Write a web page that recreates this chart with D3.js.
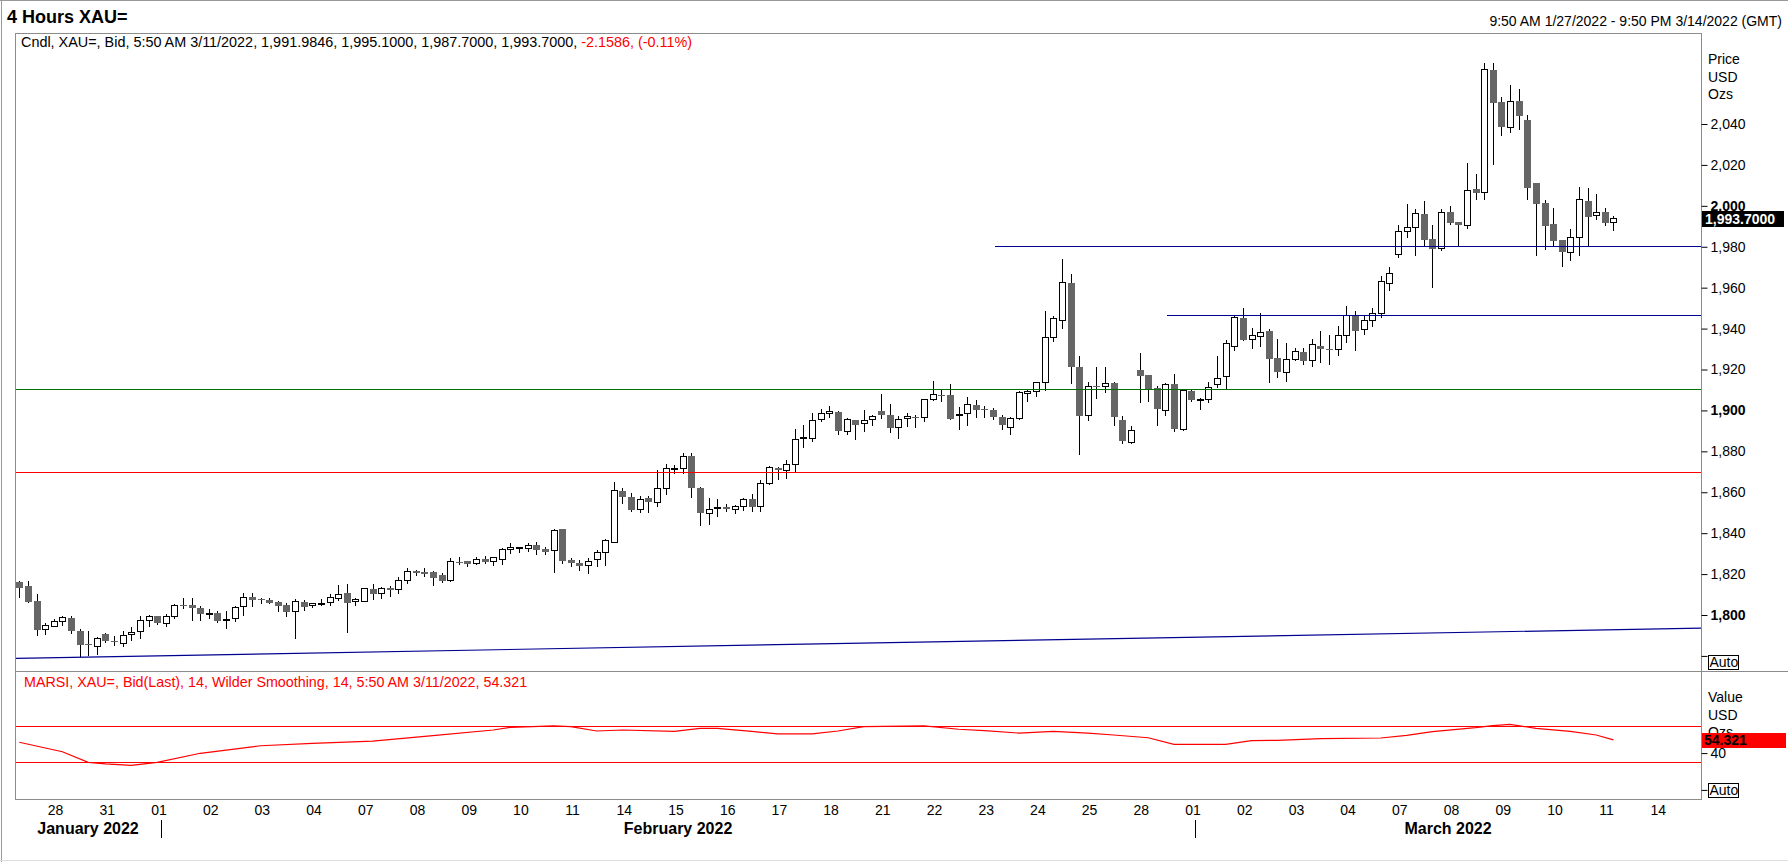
<!DOCTYPE html>
<html>
<head>
<meta charset="utf-8">
<script src="https://cdn.jsdelivr.net/npm/d3@7"></script>
<style>
  body { margin: 0; background: #fff; }
  svg { display: block; }
</style>
</head>
<body>
<svg id="chart" width="1788" height="862"></svg>
<script>
// ---- data: 4 hour XAU= bars, 9:50 AM 1/27/2022 .. 5:50 AM 3/11/2022 ----
const open = [
  1816.2,1814.1,1806.7,1792.8,1794.4,1796.8,1798.6,1792.1,1785.6,1784.6,
  1790.6,1787.3,1786.1,1790.5,1791.9,1797.1,1799.3,1796.0,1799.3,1804.8,
  1804.8,1803.6,1800.6,1801.2,1797.8,1798.3,1804.1,1808.7,1807.9,1807.4,
  1806.4,1804.8,1801.7,1806.5,1804.6,1805.5,1806.0,1808.3,1810.6,1806.4,
  1806.5,1812.9,1810.4,1813.0,1812.4,1817.1,1821.5,1821.0,1821.2,1819.4,
  1817.1,1826.1,1826.4,1825.1,1827.2,1826.1,1827.2,1831.9,1832.4,1832.6,
  1834.0,1832.1,1831.3,1841.9,1826.7,1825.6,1824.0,1827.1,1830.5,1835.4,
  1860.7,1857.8,1851.5,1857.0,1854.9,1861.7,1871.3,1871.5,1877.5,1861.9,
  1849.5,1852.2,1852.9,1851.8,1852.9,1856.8,1852.8,1864.5,1872.0,1870.8,
  1873.4,1886.2,1886.1,1895.4,1898.3,1899.3,1889.9,1895.4,1893.4,1895.4,
  1899.9,1898.0,1891.5,1896.1,1896.6,1896.4,1905.2,1907.6,1907.6,1897.7,
  1898.3,1902.7,1900.6,1900.3,1896.9,1891.8,1895.9,1908.1,1909.2,1913.5,
  1935.4,1944.0,1962.3,1921.3,1897.7,1912.0,1911.8,1913.5,1895.4,1884.2,
  1919.9,1917.5,1911.2,1900.1,1913.1,1890.7,1909.7,1905.0,1905.3,1912.5,
  1916.4,1931.0,1945.2,1934.9,1935.9,1939.0,1925.6,1918.3,1924.8,1928.4,
  1924.4,1931.5,1930.2,1930.0,1936.6,1946.6,1939.5,1944.0,1947.5,1962.2,
  1976.4,1987.5,1989.6,1996.1,1983.9,1979.3,1996.9,1991.9,1990.4,2008.1,
  2006.7,2066.4,2050.9,2038.4,2051.2,2041.9,2011.3,2001.6,1991.2,1983.4,
  1977.3,1984.7,2002.4,1995.1,1997.2,1991.98
];
const high = [
  1816.7,1816.7,1810.2,1796.2,1798.0,1799.6,1799.3,1793.1,1792.4,1789.3,
  1791.1,1789.8,1792.3,1793.9,1799.6,1799.9,1799.6,1800.4,1805.3,1808.5,
  1808.5,1804.5,1802.8,1802.0,1802.0,1804.5,1810.6,1810.9,1808.5,1808.5,
  1806.9,1805.8,1807.7,1807.4,1806.1,1807.7,1810.1,1814.5,1815.0,1808.5,
  1813.4,1815.0,1813.9,1814.2,1818.6,1823.1,1822.0,1823.1,1821.5,1820.7,
  1828.0,1828.5,1826.4,1828.5,1828.8,1828.0,1832.9,1835.3,1833.4,1835.0,
  1835.8,1833.4,1841.8,1842.0,1827.7,1826.7,1827.7,1831.6,1837.0,1865.1,
  1861.9,1859.8,1858.1,1858.1,1870.7,1873.9,1873.1,1879.0,1879.3,1862.5,
  1857.0,1856.5,1854.4,1853.6,1857.3,1859.3,1865.8,1872.8,1872.3,1876.0,
  1890.7,1893.1,1898.8,1900.9,1902.4,1899.6,1896.4,1895.4,1900.0,1898.0,
  1908.2,1902.9,1897.5,1898.6,1897.7,1905.8,1914.3,1910.2,1912.9,1901.7,
  1906.6,1905.3,1902.1,1901.3,1898.0,1896.9,1909.4,1910.5,1913.5,1948.8,
  1946.0,1974.1,1966.7,1926.8,1913.8,1921.3,1921.3,1914.1,1897.5,1892.6,
  1928.1,1917.5,1911.8,1913.5,1917.8,1909.6,1910.2,1906.1,1913.9,1926.5,
  1934.6,1946.3,1950.1,1940.3,1947.6,1939.8,1934.9,1933.0,1930.5,1930.5,
  1934.9,1938.6,1937.0,1941.1,1950.9,1948.5,1946.0,1950.0,1965.5,1970.1,
  1990.7,2001.0,1998.4,2002.4,1990.7,1998.4,2000.0,1992.2,2020.8,2015.6,
  2070.0,2069.9,2053.3,2059.0,2056.9,2044.4,2011.3,2002.9,1998.8,1983.4,
  1988.6,2009.1,2008.6,2005.8,1998.8,1995.1
];
const low = [
  1808.5,1806.1,1789.8,1790.3,1793.9,1794.7,1790.8,1779.6,1780.1,1780.6,
  1786.1,1784.9,1784.6,1787.4,1788.2,1793.9,1795.2,1794.2,1798.0,1802.8,
  1797.1,1797.1,1798.0,1796.3,1793.4,1796.8,1799.3,1804.1,1805.6,1805.3,
  1801.7,1799.1,1788.2,1802.0,1803.3,1804.4,1804.4,1806.9,1791.4,1804.4,
  1806.3,1807.4,1807.7,1809.0,1810.1,1815.3,1819.1,1818.6,1814.2,1815.8,
  1816.1,1824.4,1823.6,1824.3,1824.8,1823.9,1824.3,1830.0,1830.5,1830.8,
  1829.3,1829.3,1820.7,1824.8,1823.5,1821.5,1819.9,1823.5,1824.0,1835.4,
  1854.1,1850.3,1849.8,1849.8,1852.8,1858.9,1869.0,1869.0,1857.2,1843.5,
  1844.0,1847.9,1850.3,1849.2,1850.8,1850.3,1850.3,1863.5,1865.8,1866.3,
  1870.0,1881.7,1884.5,1894.4,1896.4,1887.9,1888.2,1885.3,1889.5,1892.3,
  1895.9,1888.9,1885.8,1891.8,1891.2,1894.3,1904.5,1904.0,1895.2,1890.4,
  1892.6,1896.1,1896.1,1895.1,1890.5,1888.2,1895.2,1904.0,1906.5,1909.4,
  1933.5,1939.8,1913.0,1878.2,1894.7,1905.6,1908.6,1892.3,1883.4,1883.4,
  1903.7,1904.0,1892.3,1897.2,1889.4,1889.9,1904.0,1900.1,1903.4,1911.0,
  1910.7,1928.9,1933.8,1930.0,1930.9,1913.5,1915.9,1913.8,1924.0,1922.4,
  1921.3,1923.2,1922.4,1926.5,1933.0,1928.9,1937.0,1941.0,1945.0,1958.5,
  1974.5,1984.5,1975.3,1980.6,1959.8,1977.7,1990.4,1980.5,1988.6,2002.9,
  2002.9,2020.2,2034.1,2035.8,2037.0,2002.9,1975.6,1978.5,1980.6,1969.9,
  1972.8,1975.6,1980.1,1993.1,1990.2,1987.7
];
const close = [
  1813.4,1806.4,1792.8,1794.9,1796.8,1798.6,1792.4,1785.4,1785.4,1788.7,
  1787.1,1787.1,1790.1,1791.4,1797.1,1799.3,1796.2,1799.3,1804.5,1804.6,
  1803.2,1800.7,1800.8,1797.1,1798.0,1803.6,1808.5,1807.1,1807.2,1805.9,
  1804.5,1801.5,1806.5,1803.9,1805.6,1805.8,1808.5,1809.9,1805.7,1807.7,
  1812.9,1810.1,1812.9,1812.2,1816.9,1821.2,1820.5,1819.9,1818.1,1816.6,
  1826.1,1825.2,1824.9,1827.0,1825.9,1828.0,1831.9,1832.9,1832.9,1834.0,
  1831.8,1830.8,1841.4,1826.4,1825.4,1824.0,1826.1,1830.5,1836.5,1860.7,
  1857.6,1851.3,1856.4,1855.2,1861.7,1871.5,1871.7,1877.3,1862.0,1849.8,
  1851.5,1852.6,1851.8,1852.8,1856.4,1852.8,1864.2,1872.0,1870.8,1873.4,
  1885.6,1886.6,1895.1,1898.3,1899.3,1889.9,1895.4,1892.8,1895.2,1896.9,
  1897.7,1891.2,1895.4,1897.0,1896.4,1905.2,1907.6,1907.4,1895.7,1898.1,
  1903.0,1900.1,1900.4,1896.7,1893.1,1895.9,1908.6,1909.2,1913.5,1935.4,
  1944.7,1962.3,1921.1,1897.2,1911.8,1911.8,1913.3,1896.7,1885.0,1890.4,
  1917.0,1910.5,1900.5,1912.5,1890.7,1909.6,1905.0,1905.4,1911.0,1915.8,
  1932.5,1945.2,1934.6,1936.4,1937.9,1925.2,1918.7,1924.8,1928.9,1924.0,
  1932.0,1930.0,1930.0,1936.6,1946.6,1939.0,1944.0,1947.5,1963.0,1967.1,
  1987.5,1989.6,1996.4,1983.1,1978.8,1996.9,1991.5,1990.4,2007.6,2006.5,
  2066.8,2050.4,2038.4,2051.2,2044.0,2008.9,2000.8,1990.2,1983.0,1977.3,
  1984.7,2003.2,1994.3,1996.9,1991.5,1993.7
];

// MARSI(14, Wilder): bar index -> value
const rsiBars   = [0, 5, 8, 10, 13, 16, 21, 28, 34, 41, 48, 55, 57, 62, 64, 67, 70, 76, 79, 81,
                   85, 88, 92, 95, 98, 105, 109, 112, 116, 120, 124, 127, 131, 134, 137, 140, 143, 146, 151, 158,
                   161, 164, 169, 171, 173, 176, 180, 183, 185];
const rsiValues = [51.8, 41.5, 30.0, 28.2, 26.7, 30.0, 39.8, 48.0, 50.6, 53.1, 59.0, 65.1, 68.0, 69.5, 68.7, 64.0, 65.1, 63.6, 66.9, 66.9,
                   63.6, 60.8, 60.8, 64.0, 68.7, 69.5, 65.9, 64.4, 61.8, 63.6, 61.8, 59.7, 56.7, 49.5, 49.5, 49.5, 53.5, 53.9, 55.7, 56.4,
                   59.3, 63.3, 67.6, 69.8, 71.3, 66.9, 63.6, 59.7, 54.3];
const rsiLevels = [70, 30];

// drawn levels on the price pane
const levelPrices    = [1980.2, 1946.8, 1910.6, 1870.1];
const levelStartBars = [113.2, 133.2, null, null];
const trendBars   = [-0.6, 195.3];
const trendPrices = [1778.8, 1793.6];

// trading days on the time axis (Jan 27 shows only its last 4 bars)
const tradingDays = ["2022-01-27","2022-01-28","2022-01-31","2022-02-01","2022-02-02","2022-02-03","2022-02-04",
  "2022-02-07","2022-02-08","2022-02-09","2022-02-10","2022-02-11","2022-02-14","2022-02-15","2022-02-16",
  "2022-02-17","2022-02-18","2022-02-21","2022-02-22","2022-02-23","2022-02-24","2022-02-25","2022-02-28",
  "2022-03-01","2022-03-02","2022-03-03","2022-03-04","2022-03-07","2022-03-08","2022-03-09","2022-03-10",
  "2022-03-11","2022-03-14"];
const barsPerDay = 6;
const firstDayOffset = 2;

const priceTicks = [1780, 1800, 1820, 1840, 1860, 1880, 1900, 1920, 1940, 1960, 1980, 2000, 2020, 2040];
const rsiTicks = [0, 40];
const lastPrice = 1993.7;
const lastRsi = 54.321;

// ---- layout ----
const FONT = "Arial, 'Liberation Sans', sans-serif";
const plotL = 15, plotR = 1701, plotT = 33, sepY = 671, rsiB = 799;
const BAR_W = 8.617;
const GRAY = "#666666", FRAME = "#8c8c8c";

const svg = d3.select("#chart").style("font-family", FONT);

const x = d3.scaleLinear().domain([0, 185]).range([19.3, 19.3 + 185 * BAR_W]);
const y = d3.scaleLinear().domain([1800, 2040]).range([615, 124]);
const yr = d3.scaleLinear().domain([30, 70]).range([762.3, 725.5]);

svg.append("rect").attr("width", 1788).attr("height", 862).attr("fill", "#fff");

// outer frame
svg.append("line").attr("x1", 1.5).attr("x2", 1.5).attr("y1", 0).attr("y2", 862).attr("stroke", "#999");
svg.append("line").attr("x1", 0).attr("x2", 1788).attr("y1", 0.5).attr("y2", 0.5).attr("stroke", "#999");
svg.append("line").attr("x1", 0).attr("x2", 1788).attr("y1", 860.5).attr("y2", 860.5).attr("stroke", "#ddd");

// title
svg.append("text").attr("x", 7).attr("y", 23)
  .attr("font-size", 18).attr("font-weight", "bold").text("4 Hours XAU=");
svg.append("text").attr("x", 1782).attr("y", 26).attr("text-anchor", "end")
  .attr("font-size", 14).text("9:50 AM 1/27/2022 - 9:50 PM 3/14/2022 (GMT)");

// pane frames
const frame = svg.append("g").attr("stroke", FRAME).attr("fill", "none").attr("shape-rendering", "crispEdges");
frame.append("path").attr("d", `M${plotL + 0.5},${rsiB + 0.5}V${plotT + 0.5}H${plotR + 0.5}V${rsiB + 0.5}H${plotL + 0.5}`);
frame.append("line").attr("x1", plotL).attr("x2", 1788).attr("y1", sepY + 0.5).attr("y2", sepY + 0.5);

// clip for price pane
svg.append("clipPath").attr("id", "priceClip").append("rect")
  .attr("x", plotL + 1).attr("y", plotT + 1).attr("width", plotR - plotL - 1).attr("height", sepY - plotT - 1);
svg.append("clipPath").attr("id", "rsiClip").append("rect")
  .attr("x", plotL + 1).attr("y", sepY + 1).attr("width", plotR - plotL - 1).attr("height", rsiB - sepY - 1);

// ---- candles ----
const bars = open.map((o, i) => ({ i, o, h: high[i], l: low[i], c: close[i] }));
const cg = svg.append("g").attr("clip-path", "url(#priceClip)").attr("shape-rendering", "crispEdges");

cg.selectAll("line.wick")
  .data(bars)
  .join("line")
  .attr("class", "wick")
  .attr("x1", d => Math.round(x(d.i)) + 0.5)
  .attr("x2", d => Math.round(x(d.i)) + 0.5)
  .attr("y1", d => y(d.h))
  .attr("y2", d => y(d.l))
  .attr("stroke", "#000");

cg.selectAll("rect.body")
  .data(bars)
  .join("rect")
  .attr("class", "body")
  .attr("x", d => d.c >= d.o ? Math.round(x(d.i)) - 2.5 : Math.round(x(d.i)) - 3)
  .attr("width", d => d.c >= d.o ? 6 : 7)
  .attr("y", d => y(Math.max(d.o, d.c)))
  .attr("height", d => Math.max(1, Math.abs(y(d.o) - y(d.c))))
  .attr("fill", d => d.c >= d.o ? "#fff" : GRAY)
  .attr("stroke", d => d.c >= d.o ? "#000" : "none");

// levels and trend line
const levelColors = ["#000090", "#000090", "#007000", "#ff0000"];
cg.selectAll("line.level")
  .data(levelPrices)
  .join("line")
  .attr("class", "level")
  .attr("x1", (d, k) => levelStartBars[k] === null ? plotL : x(levelStartBars[k]))
  .attr("x2", plotR)
  .attr("y1", d => Math.round(y(d)) + 0.5)
  .attr("y2", d => Math.round(y(d)) + 0.5)
  .attr("stroke", (d, k) => levelColors[k]);

svg.append("line").attr("clip-path", "url(#priceClip)")
  .attr("x1", x(trendBars[0])).attr("y1", y(trendPrices[0]))
  .attr("x2", x(trendBars[1])).attr("y2", y(trendPrices[1]))
  .attr("stroke", "#000090").attr("stroke-width", 1.2);

// price pane header
const hdr = svg.append("text").attr("x", 21).attr("y", 47).attr("font-size", 14.4);
hdr.append("tspan").text("Cndl, XAU=, Bid, 5:50 AM 3/11/2022, 1,991.9846, 1,995.1000, 1,987.7000, 1,993.7000, ");
hdr.append("tspan").attr("fill", "#ff0000").text("-2.1586, (-0.11%)");

// price axis
const yAxis = d3.axisRight(y)
  .tickValues(priceTicks)
  .tickSize(6)
  .tickPadding(3)
  .tickFormat(d => d === 1780 ? "" : d3.format(",")(d));
const ya = svg.append("g").attr("transform", `translate(${plotR + 0.5},0)`).call(yAxis);
ya.select(".domain").remove();
ya.selectAll(".tick line").attr("stroke", "#000");
ya.selectAll(".tick text")
  .attr("font-family", FONT)
  .attr("font-size", 14)
  .attr("fill", "#000")
  .attr("font-weight", d => d % 100 === 0 ? "bold" : "normal");

["Price", "USD", "Ozs"].forEach((t, k) =>
  svg.append("text").attr("x", 1708).attr("y", 64 + k * 17.5).attr("font-size", 14).text(t));

function autoBox(yTop) {
  const g = svg.append("g");
  g.append("rect").attr("x", 1708.5).attr("y", yTop + 0.5).attr("width", 30).attr("height", 14)
    .attr("fill", "#fff").attr("stroke", "#000").attr("shape-rendering", "crispEdges");
  g.append("text").attr("x", 1709.5).attr("y", yTop + 12.5).attr("font-size", 14).text("Auto");
}
autoBox(y(1780) - 1);

// last price tag
svg.append("rect").attr("x", plotR + 1).attr("y", Math.round(y(lastPrice)) - 8)
  .attr("width", 82).attr("height", 16).attr("fill", "#000");
svg.append("text").attr("x", 1705).attr("y", y(lastPrice) + 5)
  .attr("font-size", 14).attr("font-weight", "bold").attr("fill", "#fff")
  .text(d3.format(",.4f")(lastPrice));

// ---- RSI pane ----
svg.append("text").attr("x", 24).attr("y", 687).attr("font-size", 14.3).attr("fill", "#ff0000")
  .text("MARSI, XAU=, Bid(Last),  14, Wilder Smoothing, 14, 5:50 AM 3/11/2022, 54.321");

const rg = svg.append("g").attr("clip-path", "url(#rsiClip)");
rg.selectAll("line.rlev")
  .data(rsiLevels)
  .join("line")
  .attr("class", "rlev")
  .attr("x1", plotL).attr("x2", plotR)
  .attr("y1", d => Math.round(yr(d)) + 0.5)
  .attr("y2", d => Math.round(yr(d)) + 0.5)
  .attr("stroke", "#ff0000").attr("shape-rendering", "crispEdges");

const rsiPts = rsiBars.map((b, k) => [b, rsiValues[k]]);
rg.append("path")
  .datum(rsiPts)
  .attr("fill", "none")
  .attr("stroke", "#ff0000")
  .attr("stroke-width", 1.2)
  .attr("d", d3.line().x(d => x(d[0])).y(d => yr(d[1])));

const rAxis = d3.axisRight(yr).tickValues(rsiTicks).tickSize(6).tickPadding(3)
  .tickFormat(d => d === 0 ? "" : d);
const ra = svg.append("g").attr("transform", `translate(${plotR + 0.5},0)`).call(rAxis);
ra.select(".domain").remove();
ra.selectAll(".tick line").attr("stroke", "#000");
ra.selectAll(".tick text").attr("font-family", FONT).attr("font-size", 14).attr("fill", "#000");

// "Ozs" sits partly under the value tag, as in the terminal
["Value", "USD", "Ozs"].forEach((t, k) =>
  svg.append("text").attr("x", 1708).attr("y", 702 + k * 17.5).attr("font-size", 14).text(t));
autoBox(yr(0) - 7);

svg.append("rect").attr("x", plotR + 1).attr("y", Math.round(yr(lastRsi)) - 7)
  .attr("width", 84).attr("height", 15).attr("fill", "#ff0000");
svg.append("text").attr("x", 1704).attr("y", yr(lastRsi) + 5)
  .attr("font-size", 14).attr("font-weight", "bold").attr("fill", "#000")
  .text(d3.format(".3f")(lastRsi));

// ---- time axis ----
const parse = d3.timeParse("%Y-%m-%d");
const days = tradingDays.map((s, k) => ({ date: parse(s), start: k * barsPerDay - firstDayOffset }));
const visibleDays = days.filter(d => x(d.start) > plotL + 10);

const xAxis = d3.axisBottom(x)
  .tickValues(visibleDays.map(d => d.start + 0.15))
  .tickSize(0)
  .tickPadding(0)
  .tickFormat((v, k) => d3.timeFormat("%d")(visibleDays[k].date));
const xa = svg.append("g").attr("transform", `translate(0,${rsiB + 6})`).call(xAxis);
xa.select(".domain").remove();
xa.selectAll(".tick text").attr("font-family", FONT).attr("font-size", 14).attr("fill", "#000");

// month separators and labels
const monthStarts = days.filter((d, k) => k > 0 && d.date.getMonth() !== days[k - 1].date.getMonth());
svg.selectAll("line.msep")
  .data(monthStarts)
  .join("line")
  .attr("class", "msep")
  .attr("x1", d => Math.round(x(d.start + 0.45)) + 0.5)
  .attr("x2", d => Math.round(x(d.start + 0.45)) + 0.5)
  .attr("y1", 820).attr("y2", 838)
  .attr("stroke", "#000");

const edges = [plotL].concat(monthStarts.map(d => x(d.start + 0.45))).concat([plotR]);
const monthNames = [days[0]].concat(monthStarts).map(d => d3.timeFormat("%B %Y")(d.date));
svg.selectAll("text.month")
  .data(monthNames)
  .join("text")
  .attr("class", "month")
  .attr("x", (d, k) => (edges[k] + edges[k + 1]) / 2)
  .attr("y", 834)
  .attr("text-anchor", "middle")
  .attr("font-size", 16)
  .attr("font-weight", "bold")
  .text(d => d);
</script>
</body>
</html>
